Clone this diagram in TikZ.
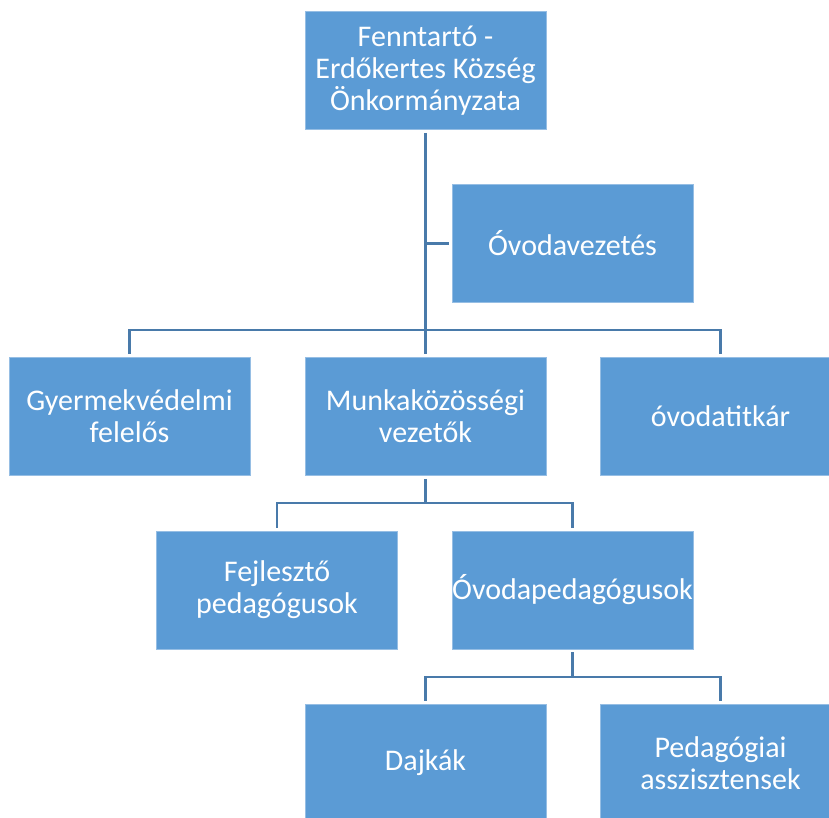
\documentclass[tikz,border=0pt]{standalone}
\usepackage{fontspec}
\setmainfont{Carlito}
\definecolor{boxfill}{RGB}{91,155,213}
\definecolor{boxedge}{RGB}{150,190,228}
\definecolor{linecol}{RGB}{73,122,170}
\begin{document}
\begin{tikzpicture}[x=1pt,y=-1pt,
  orgbox/.style={rectangle, fill=boxfill, draw=boxedge, line width=0.6pt,
    minimum width=241pt, minimum height=118pt, inner sep=0pt,
    text=white, align=center, font=\fontsize{30}{32}\selectfont},
  conn/.style={draw=linecol, line width=2.8pt}]
\useasboundingbox (0,0) rectangle (829,817);
\begin{scope}
\clip (0,0) rectangle (829,817);
\node[orgbox] (top) at (425.5,70.5) {Fenntartó -\\Erdőkertes Község\\Önkormányzata};
\node[orgbox] (vez) at (572.5,243.5) {Óvodavezetés};
\node[orgbox] (gyer) at (129.5,416.5) {Gyermekvédelmi\\felelős};
\node[orgbox] (munka) at (425.5,416.5) {Munkaközösségi\\vezetők};
\node[orgbox] (tit) at (720.5,416.5) {óvodatitkár};
\node[orgbox] (fejl) at (277,590) {Fejlesztő\\pedagógusok};
\node[orgbox] (oped) at (572.5,590) {Óvodapedagógusok};
\node[orgbox] (dajka) at (425.5,763) {Dajkák};
\node[orgbox] (pedas) at (720.5,763) {Pedagógiai\\asszisztensek};
\end{scope}
\coordinate (bus1) at (425.5,330);
\coordinate (bus2) at (425.5,503);
\coordinate (bus3) at (572.5,677);
% top level
\draw[conn, shorten <=3pt] (top.south) -- (bus1);
\draw[conn, shorten >=3pt] (top.south |- vez.west) -- (vez.west);
\draw[conn, shorten <=3pt, shorten >=3pt] (gyer.north) |- (bus1) -| (tit.north);
\draw[conn, shorten >=3pt] (bus1) -- (munka.north);
% second level
\draw[conn, shorten <=3pt] (munka.south) -- (bus2);
\draw[conn, shorten <=3pt, shorten >=3pt] (fejl.north) |- (bus2) -| (oped.north);
% third level
\draw[conn, shorten <=3pt] (oped.south) -- (bus3);
\draw[conn, shorten <=3pt, shorten >=3pt] (dajka.north) |- (bus3) -| (pedas.north);
\end{tikzpicture}
\end{document}
